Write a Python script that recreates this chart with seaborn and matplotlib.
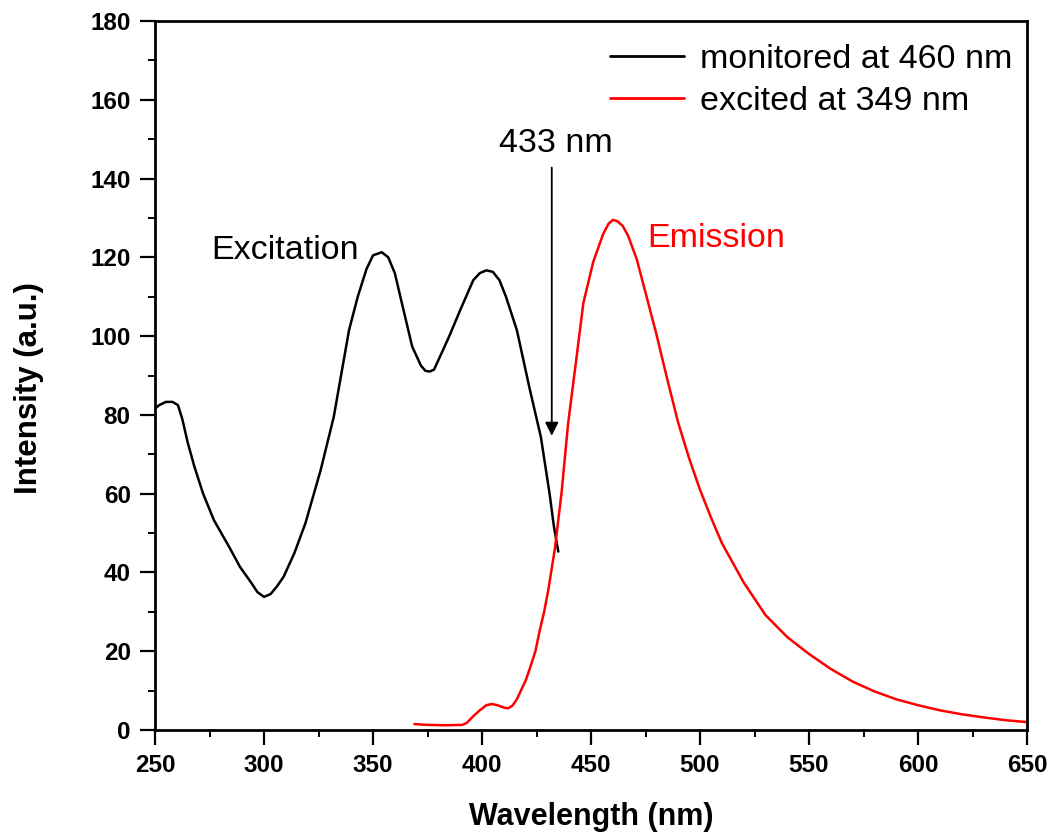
import matplotlib
matplotlib.use("Agg")
import matplotlib.pyplot as plt
from matplotlib.ticker import MultipleLocator
import seaborn as sns
import pandas as pd

# ---- data ----
ex_wavelength = [250, 252, 255, 258, 260.5, 262.5, 265, 268, 272, 277, 284, 289, 294, 297, 300,
                 303, 306, 309, 314, 319, 326, 332, 339, 343, 347, 350, 354, 357, 360, 364,
                 368, 372, 374, 376, 378, 380, 385, 390, 396, 399, 402, 405, 408, 411, 416,
                 422, 427, 431, 433, 435]
ex_intensity = [81.6, 82.5, 83.3, 83.3, 82.5, 79.0, 73.0, 67.0, 60.1, 53.3, 46.5, 41.4, 37.5, 35.0, 33.8,
                34.5, 36.5, 38.9, 45.0, 52.5, 66.0, 79.5, 101.5, 110.0, 117.0, 120.5, 121.3, 120.0, 116.0, 106.6,
                97.3, 92.5, 91.2, 91.0, 91.5, 93.9, 100.0, 106.6, 114.2, 116.0, 116.7, 116.3, 114.2, 110.0, 101.5,
                86.3, 74.4, 60.0, 51.6, 45.3]

em_wavelength = [369, 375, 383, 391, 393, 396, 399, 402, 404.5, 407, 410, 412, 414, 416, 418,
                 420, 422, 424.5, 426.5, 428.5, 430.5, 433.5, 436.5, 439.5, 443.5, 446.5, 451, 455.5,
                 458, 460, 462, 464.5, 467, 469, 471, 475.5, 480, 485, 490, 495, 500, 505, 510, 520,
                 530, 540, 550, 560, 570, 580, 590, 600, 610, 620, 630, 640, 650]
em_intensity = [1.5, 1.3, 1.2, 1.3, 1.8, 3.5, 5.0, 6.3, 6.6, 6.3, 5.7, 5.5, 6.2, 7.8, 10.2,
                12.5, 15.7, 20.0, 25.3, 30.0, 35.8, 46.3, 60.3, 77.8, 95.2, 108.4, 118.8, 125.8,
                128.5, 129.5, 129.2, 128.0, 125.5, 122.5, 119.5, 110.0, 100.5, 89.0, 78.0, 69.0, 61.0,
                54.0, 47.5, 37.5, 29.2, 23.6, 19.3, 15.5, 12.3, 9.8, 7.8, 6.3, 5.0, 4.0, 3.2, 2.5, 2.0]

series_labels = ["monitored at 460 nm", "excited at 349 nm"]
x_label = "Wavelength (nm)"
y_label = "Intensity (a.u.)"

# ---- style ----
sns.set_style("ticks")
plt.rcParams['font.family'] = ['Liberation Sans', 'DejaVu Sans']
plt.rcParams['text.color'] = 'black'
plt.rcParams['axes.labelcolor'] = 'black'
plt.rcParams['xtick.color'] = 'black'
plt.rcParams['ytick.color'] = 'black'
plt.rcParams['axes.edgecolor'] = 'black'

fig = plt.figure(figsize=(10.51, 8.34), dpi=100)
ax = fig.add_axes([155/1051, 104/834, 872/1051, 709/834])

df_ex = pd.DataFrame({"w": ex_wavelength, "I": ex_intensity})
df_em = pd.DataFrame({"w": em_wavelength, "I": em_intensity})

sns.lineplot(data=df_ex, x="w", y="I", ax=ax, color="black", lw=1.8,
             label=series_labels[0], estimator=None, sort=False)
sns.lineplot(data=df_em, x="w", y="I", ax=ax, color="#FF0000", lw=1.8,
             label=series_labels[1], estimator=None, sort=False)

ax.set_xlim(250, 650)
ax.set_ylim(0, 180)
ax.xaxis.set_major_locator(MultipleLocator(50))
ax.xaxis.set_minor_locator(MultipleLocator(25))
ax.yaxis.set_major_locator(MultipleLocator(20))
ax.yaxis.set_minor_locator(MultipleLocator(10))

for sp in ax.spines.values():
    sp.set_visible(True)
    sp.set_linewidth(2.0)
    sp.set_color("black")

ax.tick_params(axis="both", which="major", direction="out", length=10.5, width=1.6,
               labelsize=17.5, pad=7, top=False, right=False, colors="black")
ax.tick_params(axis="both", which="minor", direction="out", length=5, width=1.4,
               top=False, right=False, colors="black")
for lab in ax.get_xticklabels() + ax.get_yticklabels():
    lab.set_fontweight("bold")

ax.set_xlabel(x_label, fontsize=22, fontweight="bold", labelpad=18, color="black")
ax.set_ylabel(y_label, fontsize=22.5, fontweight="bold", color="black")
ax.yaxis.set_label_coords(-0.127, 0.482)

leg = ax.legend(loc="upper right", bbox_to_anchor=(0.983, 0.968), frameon=False,
                fontsize=24.5, handlelength=2.2, handletextpad=0.45, labelspacing=0.33,
                borderaxespad=0, borderpad=0)
for line in leg.get_lines():
    line.set_linewidth(2.0)
for t in leg.get_texts():
    t.set_color("black")

ax.annotate("", xy=(432, 74), xytext=(432, 143.5),
            arrowprops=dict(arrowstyle="-|>", color="black", lw=1.3, mutation_scale=20))
ax.text(434, 149, "433 nm", fontsize=24.5, ha="center", va="center", color="black")
ax.text(276, 121.8, "Excitation", fontsize=24.5, ha="left", va="center", color="black")
ax.text(475.7, 124.9, "Emission", fontsize=24.5, ha="left", va="center", color="#FF0000")

fig.savefig("out.png", dpi=100)
